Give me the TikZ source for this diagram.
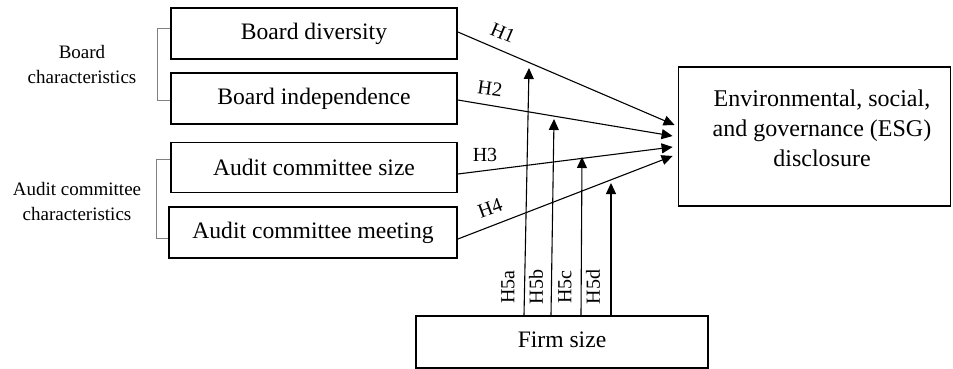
\documentclass[tikz,border=0pt]{standalone}
\usepackage{fontspec}
\setmainfont{Liberation Serif}
\usetikzlibrary{arrows.meta,calc}
\begin{document}
\begin{tikzpicture}[x=1pt,y=1pt,
  box/.style={draw,line width=1.8pt,rectangle,inner sep=0pt,font=\fontsize{23.6}{28}\selectfont},
  grp/.style={align=center,font=\fontsize{19}{25}\selectfont},
  hyp/.style={font=\fontsize{20}{24}\selectfont,inner sep=0.5pt},
  arr/.style={line width=1.1pt,-{Triangle[length=11pt,width=10pt]}},
  brk/.style={draw=gray,line width=0.9pt}]
\path[use as bounding box] (0,0) rectangle (953,-369);
\node[box,minimum width=286pt,minimum height=51pt] (bd) at (314,-33.5) {Board diversity};
\node[box,minimum width=286pt,minimum height=51pt] (bi) at (314,-98.5) {Board independence};
\node[box,minimum width=286pt,minimum height=50pt] (acs) at (314,-167.5) {Audit committee size};
\node[box,minimum width=288pt,minimum height=51pt] (acm) at (313,-232.5) {Audit committee meeting};
\node[box,minimum width=272pt,minimum height=139pt] (esg) at (814.5,-136.5) {};
\node[align=center,font=\fontsize{24}{30}\selectfont] (esgt) at (822,-128) {Environmental, social,\\and governance (ESG)\\disclosure};
\node[box,minimum width=292pt,minimum height=52pt] (fs) at (562,-342) {};
\node[font=\fontsize{23.6}{28}\selectfont] (fst) at (562,-340) {Firm size};
\node[grp] (bc) at (82,-64.5) {Board\\characteristics};
\node[grp] (ac) at (77,-201) {Audit committee\\characteristics};
% brackets
\draw[brk] ($(bd.west)+(0,5.5)$) -| ($(bi.west)+(-13,-1.5)$) -- ($(bi.west)+(0,-1.5)$);
\draw[brk] ($(acs.west)+(0,8.5)$) -| ($(acm.west)+(-12,-5.5)$) -- ($(acm.west)+(0,-5.5)$);
% hypothesis arrows
\coordinate (t1) at ($(esg.west)+(-3,11.5)$);
\coordinate (t2) at ($(esg.west)+(-5,0.5)$);
\coordinate (t3) at ($(esg.west)+(-5,-10.5)$);
\coordinate (t4) at ($(esg.west)+(-5,-19.5)$);
\draw[arr] ($(bd.east)+(0,1.5)$) -- (t1);
\draw[arr] ($(bi.east)+(0,-1.5)$) -- (t2);
\draw[arr] ($(acs.east)+(0,-6.5)$) -- (t3);
\draw[arr] ($(acm.east)+(0,-6.5)$) -- (t4);
\node[hyp,rotate=-23] (h1) at (503,-33) {H1};
\node[hyp,rotate=-8] (h2) at (490,-89) {H2};
\node[hyp] (h3) at (485,-155) {H3};
\node[hyp,rotate=20] (h4) at (490,-208) {H4};
% moderation arrows
\coordinate (m1) at (529,-68);
\coordinate (m2) at (554,-119);
\coordinate (m3) at (582,-157);
\coordinate (m4) at (611,-183);
\draw[arr] (fs.north -| 524,0) -- (m1);
\draw[arr] (fs.north -| 551,0) -- (m2);
\draw[arr] (fs.north -| 581,0) -- (m3);
\draw[arr] (fs.north -| 611,0) -- (m4);
\node[hyp,rotate=90] (h5a) at (508,-287) {H5a};
\node[hyp,rotate=90] (h5b) at (536,-287) {H5b};
\node[hyp,rotate=90] (h5c) at (565,-287) {H5c};
\node[hyp,rotate=90] (h5d) at (593,-287) {H5d};
\end{tikzpicture}
\end{document}
